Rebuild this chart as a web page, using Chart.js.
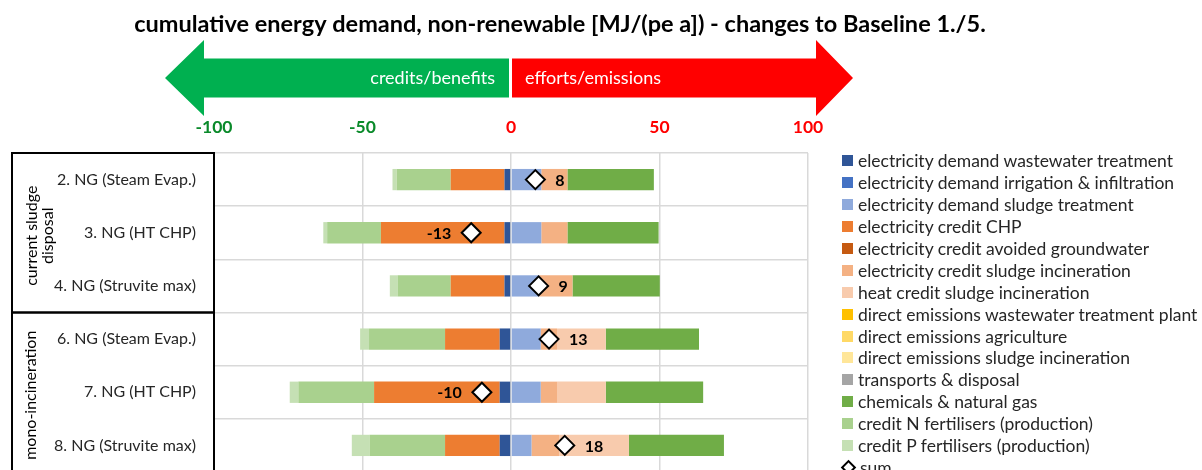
<!DOCTYPE html>
<html>
<head>
<meta charset="utf-8">
<script src="https://cdn.jsdelivr.net/npm/chart.js@4"></script>
<style>
  html, body { margin: 0; padding: 0; background: #fff; overflow: hidden; }
  #wrap { position: relative; width: 1202px; height: 470px; overflow: hidden; }
  #legend { position: absolute; left: 842px; top: 150px; font: 17.5px Lato, sans-serif; color: #262626; }
  .item { display: flex; align-items: center; height: 21.9px; white-space: nowrap; }
  .box { width: 11px; height: 11px; margin-right: 5px; flex: none; }
  .diamond { width: 7px; height: 7px; border: 2px solid #000; transform: rotate(45deg); margin: 0 6px 0 1px; flex: none; }
</style>
</head>
<body>
<div id="wrap">
  <canvas id="chart" width="1202" height="472"></canvas>
  <div id="legend"></div>
</div>
<script>
// Data
const titleText = 'cumulative energy demand, non-renewable [MJ/(pe a]) - changes to Baseline 1./5.';
const categories = [
  '2. NG (Steam Evap.)',
  '3. NG (HT CHP)',
  '4. NG (Struvite max)',
  '6. NG (Steam Evap.)',
  '7. NG (HT CHP)',
  '8. NG (Struvite max)'
];
const groupNames = [['current sludge', 'disposal'], ['mono-incineration']];
const groupRanges = [[0, 2], [3, 5]];

const elecWwtp          = [-2.2, -2.2, -2.2, -3.8, -3.8, -3.8];
const elecIrrigation    = [0, 0, 0, 0, 0, 0];
const elecSludge        = [10.2, 10.2, 9.5, 10.0, 10.0, 6.9];
const creditChp         = [-18.1, -41.6, -18.1, -18.4, -42.3, -18.4];
const creditGroundwater = [0, 0, 0, 0, 0, 0];
const creditIncElec     = [8.8, 8.8, 11.2, 5.5, 5.5, 9.3];
const creditIncHeat     = [0, 0, 0, 16.4, 16.4, 23.5];
const directWwtp        = [0, 0, 0, 0, 0, 0];
const directAgri        = [0, 0, 0, 0, 0, 0];
const directInc         = [0, 0, 0, 0, 0, 0];
const transports        = [0, 0, 0, 0, 0, 0];
const chemicals         = [29.1, 30.7, 29.4, 31.4, 32.8, 32.0];
const creditN           = [-18.2, -18.1, -17.9, -25.6, -25.5, -25.4];
const creditP           = [-1.4, -1.3, -2.6, -3.0, -2.9, -6.0];
const sums              = [8.2, -13.4, 9.3, 12.8, -9.8, 18.1];

const tickValues = [-100, -50, 0, 50, 100];

const series = [
  ['electricity demand wastewater treatment', elecWwtp, '#2F5597'],
  ['electricity demand irrigation & infiltration', elecIrrigation, '#4472C4'],
  ['electricity demand sludge treatment', elecSludge, '#8FAADC'],
  ['electricity credit CHP', creditChp, '#ED7D31'],
  ['electricity credit avoided groundwater', creditGroundwater, '#C55A11'],
  ['electricity credit sludge incineration', creditIncElec, '#F4B183'],
  ['heat credit sludge incineration', creditIncHeat, '#F8CBAD'],
  ['direct emissions wastewater treatment plant', directWwtp, '#FFC000'],
  ['direct emissions agriculture', directAgri, '#FFD966'],
  ['direct emissions sludge incineration', directInc, '#FFE699'],
  ['transports & disposal', transports, '#A5A5A5'],
  ['chemicals & natural gas', chemicals, '#70AD47'],
  ['credit N fertilisers (production)', creditN, '#A9D18E'],
  ['credit P fertilisers (production)', creditP, '#C5E0B4']
];

const datasets = series.map(([label, data, color]) => ({
  label, data,
  backgroundColor: color,
  borderWidth: 0,
  categoryPercentage: 1,
  barPercentage: 0.4,
  order: 1
}));
datasets.push({
  type: 'line',
  label: 'sum',
  data: sums,
  indexAxis: 'y',
  showLine: false,
  stack: 'sum',
  pointStyle: 'rectRot',
  pointRadius: 9.5,
  pointHoverRadius: 9.5,
  pointBackgroundColor: '#fff',
  pointBorderColor: '#000',
  pointBorderWidth: 2,
  order: 0
});

// html legend
const legendEl = document.getElementById('legend');
series.forEach(([label, , color]) => {
  legendEl.insertAdjacentHTML('beforeend',
    `<div class="item"><span class="box" style="background:${color}"></span>${label.replace('&', '&amp;')}</div>`);
});
legendEl.insertAdjacentHTML('beforeend', '<div class="item"><span class="diamond"></span>sum</div>');

// title, arrow header and group boxes
const decor = {
  id: 'decor',
  afterDraw(chart) {
    const { ctx, scales: { x, y } } = chart;
    const L = x.getPixelForValue(-100), Z = x.getPixelForValue(0), R = x.getPixelForValue(100);
    ctx.save();
    ctx.fillStyle = '#000';
    ctx.font = 'bold 23.5px Lato';
    ctx.textAlign = 'center';
    ctx.textBaseline = 'middle';
    ctx.fillText(titleText, 560, 24);

    const cy = 78, head = 38, shaft = 19.5;
    ctx.fillStyle = '#00B050';
    ctx.beginPath();
    ctx.moveTo(Z - 2, cy - shaft);
    ctx.lineTo(L - 10, cy - shaft);
    ctx.lineTo(L - 10, cy - head);
    ctx.lineTo(L - 49, cy);
    ctx.lineTo(L - 10, cy + head);
    ctx.lineTo(L - 10, cy + shaft);
    ctx.lineTo(Z - 2, cy + shaft);
    ctx.closePath();
    ctx.fill();
    ctx.fillStyle = '#FF0000';
    ctx.beginPath();
    ctx.moveTo(Z + 1, cy - shaft);
    ctx.lineTo(R + 8, cy - shaft);
    ctx.lineTo(R + 8, cy - head);
    ctx.lineTo(R + 45, cy);
    ctx.lineTo(R + 8, cy + head);
    ctx.lineTo(R + 8, cy + shaft);
    ctx.lineTo(Z + 1, cy + shaft);
    ctx.closePath();
    ctx.fill();
    ctx.fillStyle = '#fff';
    ctx.font = '18px Lato';
    ctx.textAlign = 'right';
    ctx.fillText('credits/benefits', Z - 16, cy);
    ctx.textAlign = 'left';
    ctx.fillText('efforts/emissions', Z + 14, cy);

    // group boxes
    const band = (y.bottom - y.top) / categories.length;
    ctx.strokeStyle = '#000';
    ctx.lineWidth = 2;
    ctx.fillStyle = '#000';
    ctx.font = '16px Lato';
    ctx.textAlign = 'center';
    groupRanges.forEach(([a, b], gi) => {
      const top = y.getPixelForValue(a) - band / 2;
      const bot = y.getPixelForValue(b) + band / 2;
      ctx.strokeRect(12, top, y.right - 12, bot - top);
      const lines = groupNames[gi];
      ctx.save();
      ctx.translate(lines.length > 1 ? 40 : 31, (top + bot) / 2 + 3);
      ctx.rotate(-Math.PI / 2);
      lines.forEach((t, i) => ctx.fillText(t, 0, (i - (lines.length - 1) / 2) * 16.5));
      ctx.restore();
    });
    ctx.restore();
  },
  afterDatasetsDraw(chart) {
    const meta = chart.getDatasetMeta(chart.data.datasets.length - 1);
    const { ctx } = chart;
    ctx.save();
    ctx.fillStyle = '#000';
    ctx.font = 'bold 16px Lato';
    ctx.textBaseline = 'middle';
    meta.data.forEach((pt, i) => {
      const v = sums[i];
      ctx.textAlign = v < 0 ? 'right' : 'left';
      ctx.fillText(String(Math.round(v)), pt.x + (v < 0 ? -20 : 20), pt.y + 1);
    });
    ctx.restore();
  }
};

Chart.defaults.font.family = 'Lato';

new Chart(document.getElementById('chart'), {
  type: 'bar',
  data: { labels: categories, datasets },
  plugins: [decor],
  options: {
    indexAxis: 'y',
    responsive: false,
    animation: false,
    layout: { autoPadding: false, padding: { left: 0, right: 394, top: 0, bottom: 0 } },
    plugins: {
      legend: { display: false },
      tooltip: { enabled: false }
    },
    scales: {
      x: {
        position: 'top',
        stacked: true,
        min: -100,
        max: 100,
        afterBuildTicks: (scale) => { scale.ticks = tickValues.map(v => ({ value: v })); },
        afterFit: (scale) => { scale.height = 153; },
        grid: { color: '#D9D9D9', lineWidth: 1.5, drawTicks: false },
        border: { display: false },
        ticks: {
          padding: 15,
          font: { size: 17.5, weight: 'bold' },
          color: (c) => c.tick.value < 0 ? '#0A8A2A' : '#FF0000',
          maxRotation: 0
        }
      },
      y: {
        stacked: true,
        offset: true,
        afterFit: (scale) => {
          scale.width = 214;
          scale.paddingTop = 0;
          scale.paddingBottom = 0;
        },
        grid: { color: '#D9D9D9', lineWidth: 1.5, drawTicks: false, offset: true },
        border: { display: false },
        ticks: { padding: 18, font: { size: 16 }, color: '#262626' }
      }
    }
  }
});
</script>
</body>
</html>
